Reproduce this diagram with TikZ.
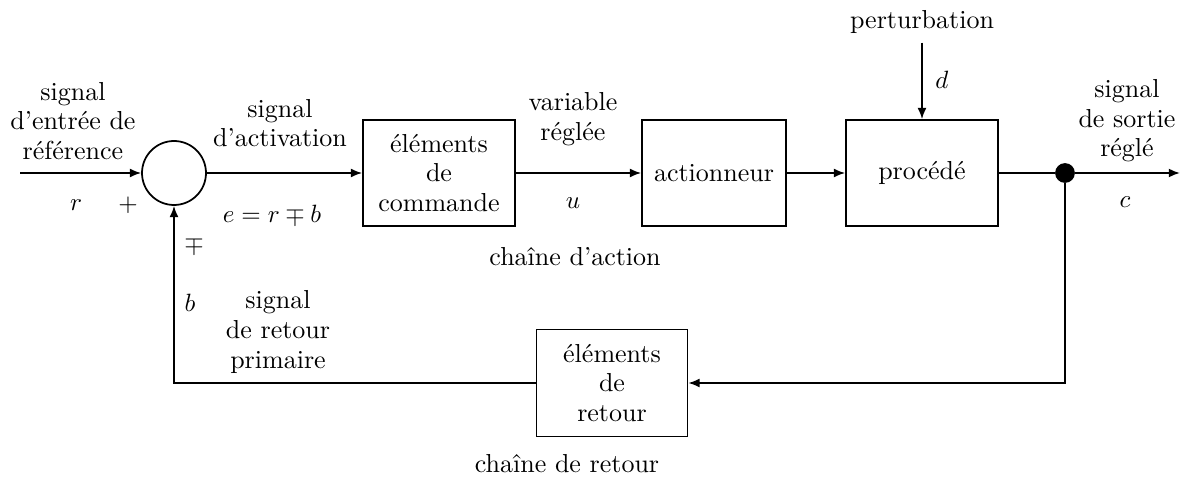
\documentclass[tikz,border=0pt]{standalone}
\usepackage{amsmath}
\usepackage{amssymb}
\usepackage{tikz}
\usetikzlibrary{arrows.meta}

\begin{document}
\begin{tikzpicture}[x=0.4pt,y=-0.4pt,line width=0.7pt,
  every node/.style={font=\fontsize{10.4}{11.8}\selectfont},
  bloc/.style={draw,minimum height=42.4pt,inner sep=0pt,align=center},
  fleche/.style={-{Latex[length=4.5pt,width=3.6pt]}},
  texte/.style={align=center}]
\useasboundingbox (0,0) rectangle (1182,479);
% Chaine d'action
\node[draw,circle,minimum size=25.6pt,inner sep=0pt] (somme) at (174,173) {};
\node[bloc,minimum width=60.8pt] (cmd) at (439,173) {éléments\\de\\commande};
\node[bloc,minimum width=57.6pt] (act) at (714,173) {actionneur};
\node[bloc,minimum width=60.8pt] (proc) at (922,173) {procédé};
\node[draw,circle,fill,minimum size=7.2pt,inner sep=0pt] (noeud) at (1065,173) {};
% Chaine de retour
\node[bloc,minimum width=60.4pt,minimum height=42.8pt] (ret) at (612,383) {éléments\\de\\retour};
% Entree, sortie, perturbation
\coordinate (entree) at (20,173);
\coordinate (sortie) at (1180,173);
\node (pert) at (922,22) {perturbation};
% Liaisons
\draw[fleche] (entree) -- (somme);
\draw[fleche] (somme) -- (cmd);
\draw[fleche] (cmd) -- (act);
\draw[fleche] (act) -- (proc);
\draw (proc) -- (noeud);
\draw[fleche] (noeud) -- (sortie);
\draw[fleche] (pert) -- (proc);
\draw[fleche] (noeud) |- (ret);
\draw[fleche] (ret) -| (somme);
% Textes
\node[texte] (tref) at (73,121) {signal\\d'entrée de\\référence};
\node (tr) at (76,205) {$r$};
\node (tplus) at (128,205) {$+$};
\node (tmp) at (194,245) {$\mp$};
\node (tb) at (190,303) {$b$};
\node[texte] (tactiv) at (280,123) {signal\\d'activation};
\node (te) at (272,215) {$e = r \mp b$};
\node[texte] (tvar) at (573,119) {variable\\réglée};
\node (tu) at (573,203) {$u$};
\node (tchact) at (575,257) {chaîne d'action};
\node (td) at (942,80) {$d$};
\node[texte] (tsort) at (1127,121) {signal\\de sortie\\réglé};
\node (tc) at (1125,202) {$c$};
\node[texte] (tprim) at (278,332) {signal\\de retour\\primaire};
\node (tchret) at (567,464) {chaîne de retour};
\end{tikzpicture}
\end{document}
